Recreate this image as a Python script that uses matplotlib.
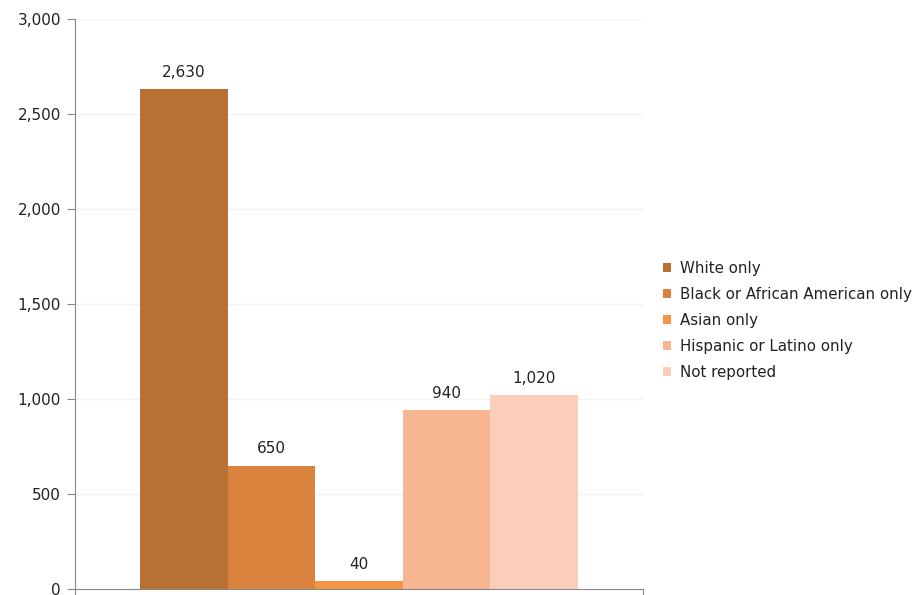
import matplotlib
matplotlib.use("Agg")
import matplotlib.pyplot as plt
from matplotlib.ticker import FuncFormatter

categories = ["White only", "Black or African American only", "Asian only",
              "Hispanic or Latino only", "Not reported"]
values = [2630, 650, 40, 940, 1020]
colors = ["#B97033", "#DB823F", "#F59646", "#F8B592", "#FACEB9"]
y_ticks = [0, 500, 1000, 1500, 2000, 2500, 3000]

plt.rcParams["font.family"] = ["DejaVu Sans"]
FS = 11

fig = plt.figure(figsize=(9.19, 5.95), dpi=100)
ax = fig.add_axes([75 / 919, 6 / 595, 568 / 919, 570 / 595])

bar_w = 0.771 / len(values)
start = 0.5 - bar_w * len(values) / 2
handles = []
for i, (name, v, c) in enumerate(zip(categories, values, colors)):
    x = start + bar_w * (i + 0.5)
    b = ax.bar(x, v, width=bar_w, color=c, label=name, linewidth=0)
    handles.append(b)
    ax.text(x, v + 50, f"{v:,}", ha="center", va="bottom", fontsize=FS, color="#222222")

ax.set_xlim(0, 1)
ax.set_ylim(0, 3000)
ax.set_yticks(y_ticks)
ax.yaxis.set_major_formatter(FuncFormatter(lambda v, p: f"{int(v):,}"))
ax.set_xticks([0, 1])
ax.set_xticklabels([])
ax.tick_params(axis="x", length=6, color="#888888", direction="out")
ax.tick_params(axis="y", length=6, color="#888888", labelsize=FS, labelcolor="#222222", pad=4)
ax.grid(axis="y", color="#F2F2F2", linewidth=1)
ax.set_axisbelow(True)
for s in ["top", "right"]:
    ax.spines[s].set_visible(False)
for s in ["left", "bottom"]:
    ax.spines[s].set_color("#888888")

leg = fig.legend(handles=handles, labels=categories, loc="upper left",
                 bbox_to_anchor=(655 / 919, 1 - 253 / 595), frameon=False,
                 fontsize=10.8, handlelength=0.55, handleheight=0.55,
                 handletextpad=0.65, labelspacing=0.74, borderpad=0,
                 labelcolor="#222222")

fig.savefig("out.png", dpi=100)
